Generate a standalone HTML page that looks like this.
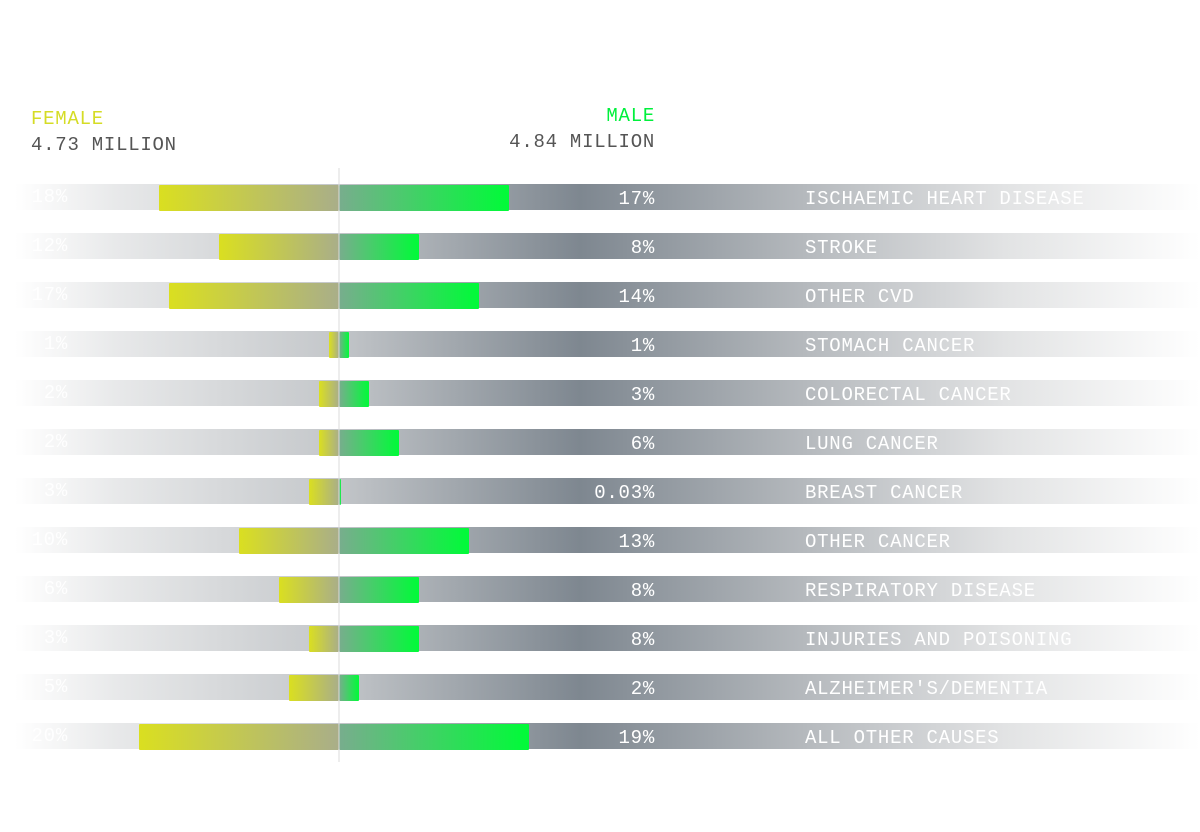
<!DOCTYPE html>
<html><head><meta charset="utf-8"><style>
body{margin:0;width:1200px;height:832px;background:#fff;overflow:hidden;position:relative;font-family:"Liberation Mono","DejaVu Sans Mono",monospace;}
.t{position:absolute;font-size:19px;letter-spacing:0.75px;white-space:nowrap;line-height:22px;}
.bg{position:absolute;left:15px;width:1185px;height:26px;background:linear-gradient(to right,rgba(255,255,255,0) 0px,#e8e9ea 100px,#c5c8cb 315px,#7e8790 565px,#b5b9bd 790px,#e2e3e4 990px,rgba(255,255,255,0) 1185px);}
.f,.m{position:absolute;height:26px;border-radius:1px;}
.f{background:linear-gradient(to right,#dadf20,#a9ae89);}
.m{background:linear-gradient(to right,#78ad8d,#00fb38);}
</style></head><body>
<div class="t" style="left:31px;top:108px;color:#d5dc26;">FEMALE</div>
<div class="t" style="left:31px;top:134px;color:#555;">4.73 MILLION</div>
<div class="t" style="right:545px;top:105px;color:#00f03c;">MALE</div>
<div class="t" style="right:545px;top:131px;color:#555;">4.84 MILLION</div>
<div id="chart"></div>
<div style="position:absolute;left:338px;top:168px;width:2px;height:594px;background:rgba(220,220,220,0.5);"></div>
<script>
const causes=["ISCHAEMIC HEART DISEASE","STROKE","OTHER CVD","STOMACH CANCER","COLORECTAL CANCER","LUNG CANCER","BREAST CANCER","OTHER CANCER","RESPIRATORY DISEASE","INJURIES AND POISONING","ALZHEIMER'S/DEMENTIA","ALL OTHER CAUSES"];
const female=[18,12,17,1,2,2,3,10,6,3,5,20];
const male=[17,8,14,1,3,6,0.03,13,8,8,2,19];
const maleLabels=["17%","8%","14%","1%","3%","6%","0.03%","13%","8%","8%","2%","19%"];
const axisX=339, pxPerPct=10, top0=184, step=49;
const x=v=>v*pxPerPct;
const c=document.getElementById('chart');
causes.forEach((name,i)=>{
  const y=top0+i*step;
  const bg=document.createElement('div');bg.className='bg';bg.style.top=y+'px';
  
  
  c.appendChild(bg);
  const f=document.createElement('div');f.className='f';
  f.style.left=(axisX-x(female[i]))+'px';f.style.width=x(female[i])+'px';f.style.top=(y+1)+'px';
  
  
  c.appendChild(f);
  const m=document.createElement('div');m.className='m';
  m.style.left=axisX+'px';m.style.width=Math.max(x(male[i]),2)+'px';m.style.top=(y+1)+'px';
  
  
  c.appendChild(m);
  const fl=document.createElement('div');fl.className='t';fl.textContent=female[i]+'%';
  fl.style.right=(1200-68)+'px';fl.style.top=(y+2)+'px';fl.style.color='rgba(255,255,255,0.9)';
  
  
  c.appendChild(fl);
  const ml=document.createElement('div');ml.className='t';ml.textContent=maleLabels[i];
  ml.style.right=(1200-655)+'px';ml.style.top=(y+4)+'px';ml.style.color='#fff';
  
  
  c.appendChild(ml);
  const cl=document.createElement('div');cl.className='t';cl.textContent=name;
  cl.style.left='805px';cl.style.top=(y+4)+'px';cl.style.color='#fff';
  
  
  c.appendChild(cl);
});
</script>
</body></html>
